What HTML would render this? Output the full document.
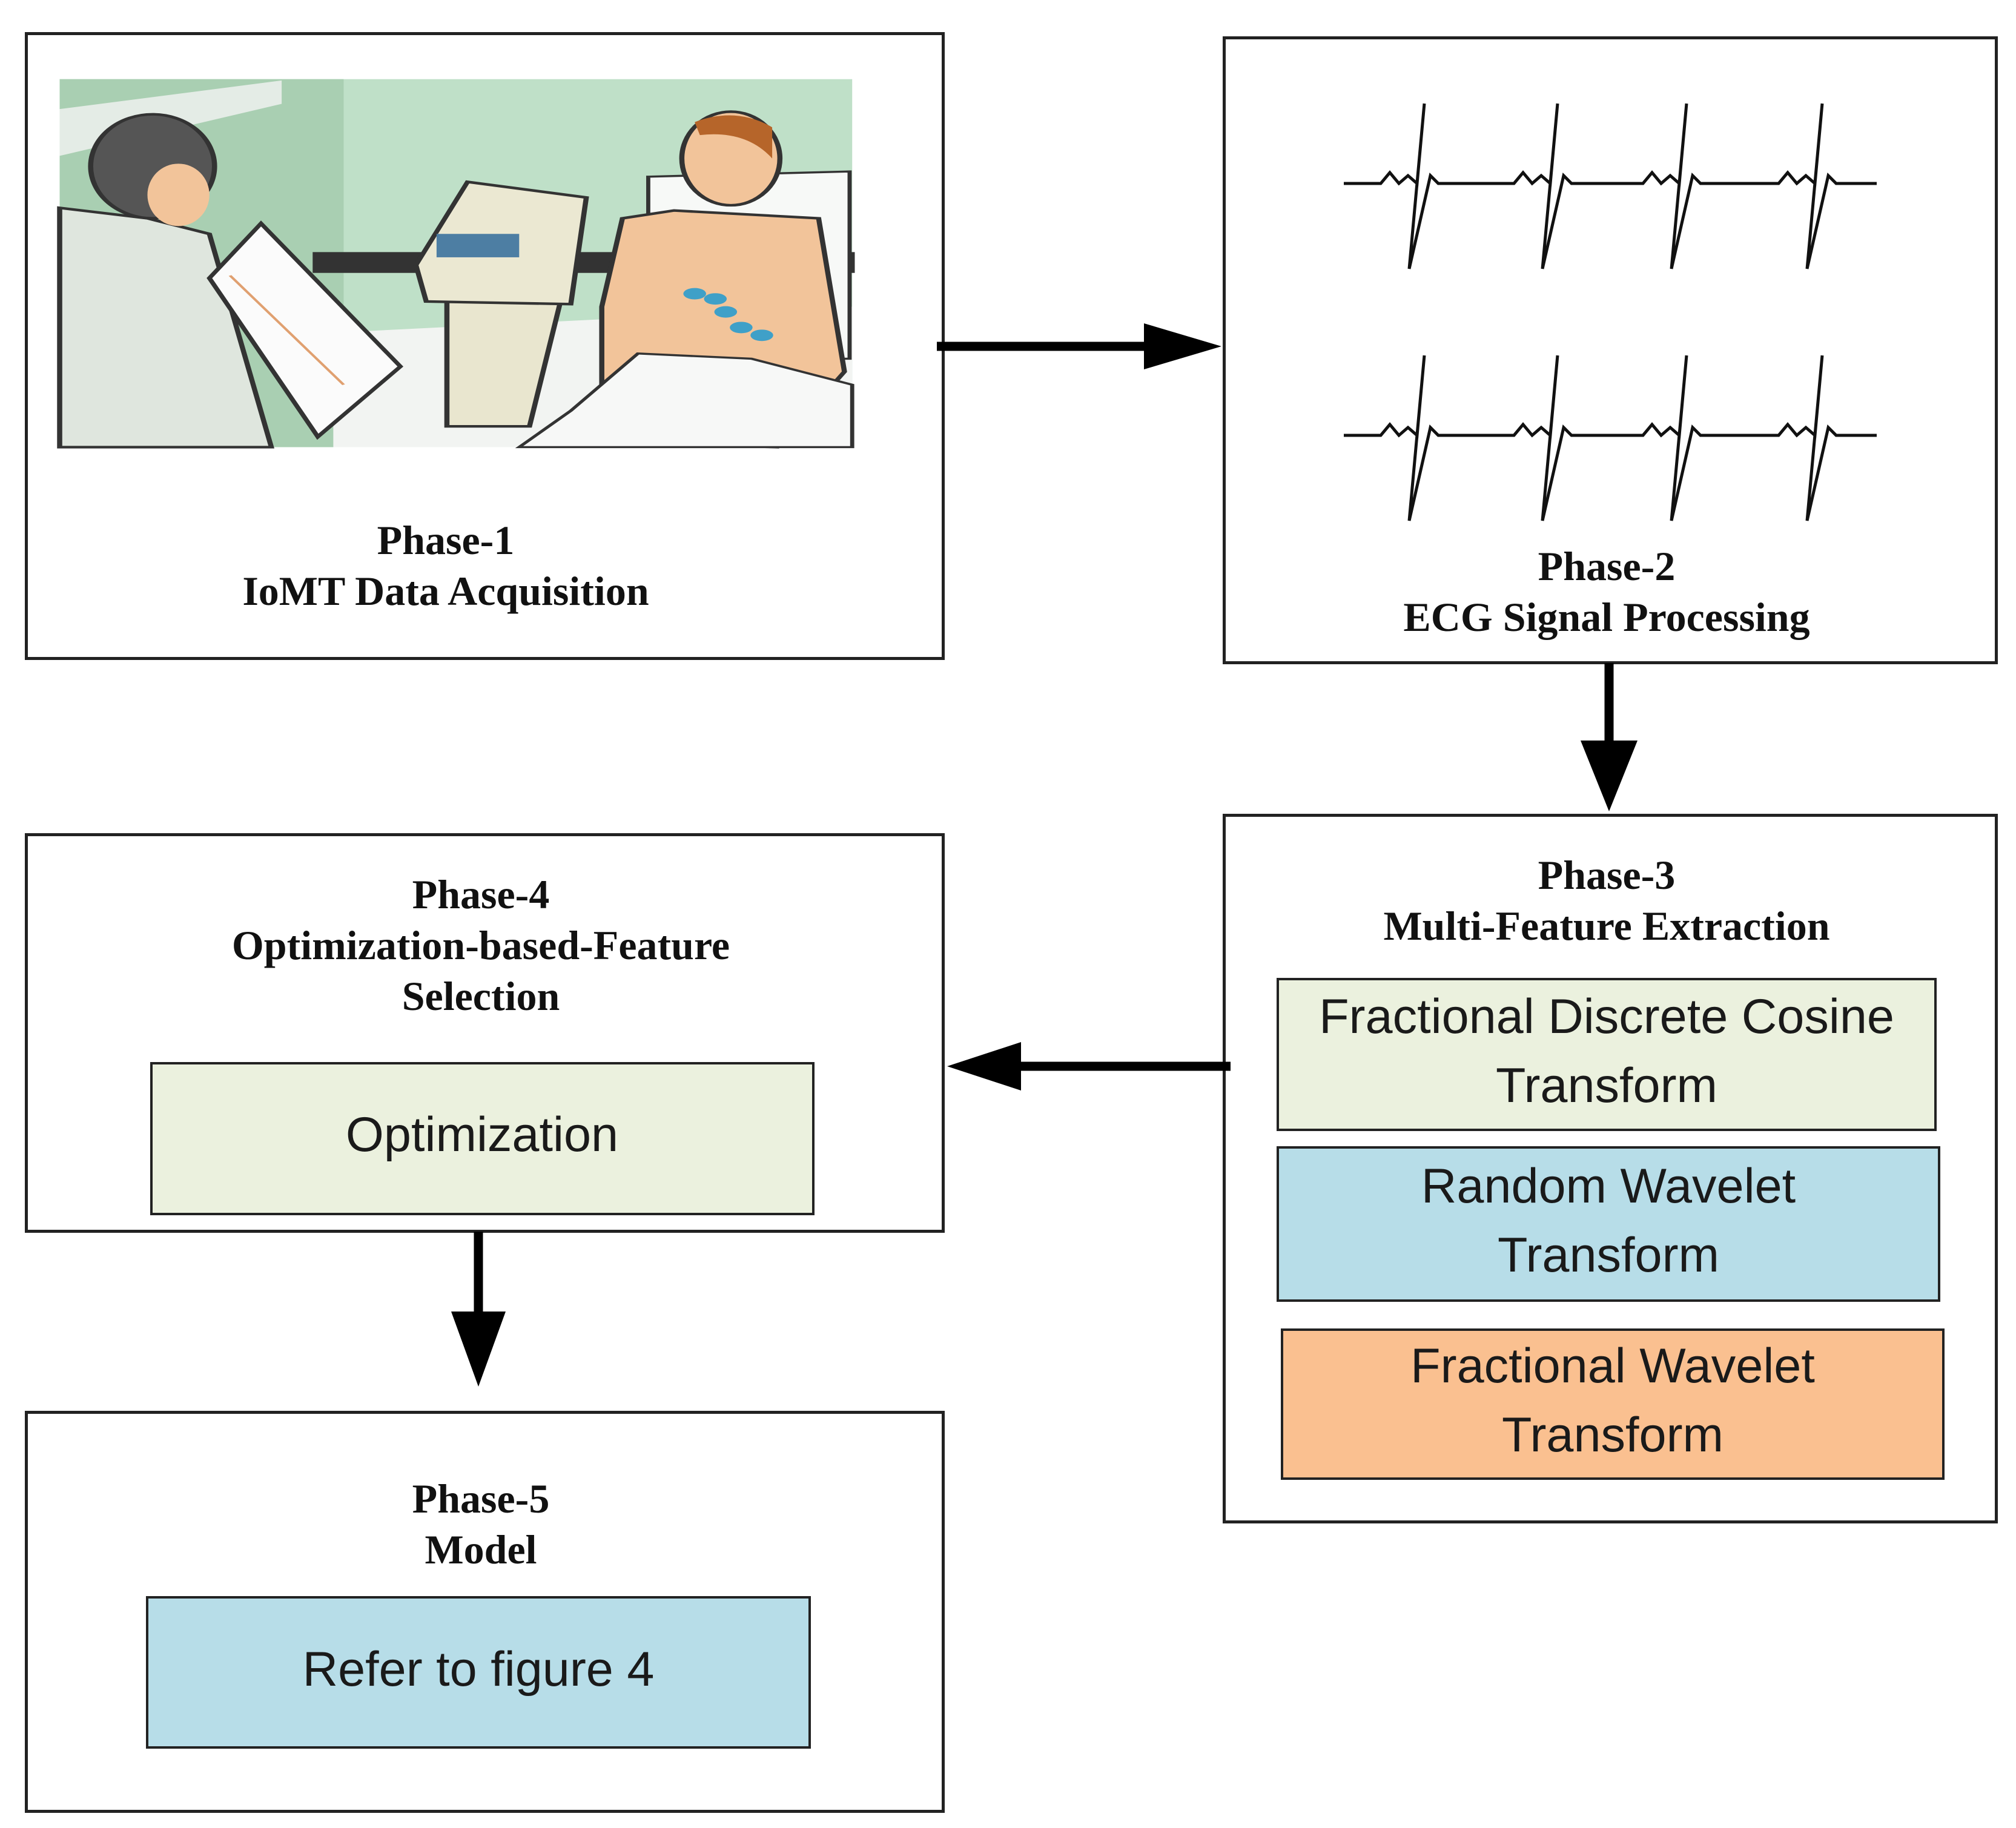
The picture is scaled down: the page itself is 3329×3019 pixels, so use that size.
<!DOCTYPE html>
<html><head><meta charset="utf-8"><style>
body{margin:0;background:#fff}
#c{position:relative;width:3329px;height:3019px;overflow:hidden;background:#fff}
.b{position:absolute;border:5px solid #222;box-sizing:border-box;background:#fff}
.s{position:absolute;border:4px solid #222;box-sizing:border-box}
.t{position:absolute;font-family:"Liberation Serif",serif;font-weight:bold;font-size:68px;color:#111;text-align:center;line-height:84px;white-space:nowrap;transform:translateX(-50%)}
.f{position:absolute;font-family:"Liberation Sans",sans-serif;font-size:81px;color:#1a1a1a;text-align:center;line-height:114px;white-space:nowrap;transform:translateX(-50%)}
svg{position:absolute;left:0;top:0}
</style></head><body><div id="c">
<div class="b" style="left:41px;top:53px;width:1519px;height:1037px"></div>
<div class="b" style="left:2019px;top:60px;width:1280px;height:1037px"></div>
<div class="b" style="left:2019px;top:1344px;width:1280px;height:1172px"></div>
<div class="b" style="left:41px;top:1376px;width:1519px;height:660px"></div>
<div class="b" style="left:41px;top:2330px;width:1519px;height:664px"></div>

<div class="s" style="left:2108px;top:1615px;width:1090px;height:253px;background:#ebf1de"></div>
<div class="s" style="left:2108px;top:1893px;width:1096px;height:257px;background:#b7dde8"></div>
<div class="s" style="left:2115px;top:2194px;width:1096px;height:250px;background:#fac090"></div>
<div class="s" style="left:248px;top:1754px;width:1097px;height:253px;background:#ebf1de"></div>
<div class="s" style="left:241px;top:2636px;width:1098px;height:252px;background:#b7dde8"></div>

<svg width="3329" height="3019" viewBox="0 0 3329 3019">
<g stroke="#000" stroke-width="15" fill="none"><line x1="1547" y1="572" x2="1895" y2="572"/><line x1="2657" y1="1095" x2="2657" y2="1230"/><line x1="2032" y1="1761" x2="1680" y2="1761"/><line x1="790" y1="2034" x2="790" y2="2172"/></g>
<g fill="#000"><polygon points="1889,534 2017,572 1889,610"/><polygon points="2610,1223 2704,1223 2657,1340"/><polygon points="1686,1721 1564,1761 1686,1801"/><polygon points="745,2166 835,2166 790,2290"/></g>
<g stroke="#111" stroke-width="5" fill="none" stroke-linejoin="miter">
<path id="e1" d="M2219,303 H2280 L2295,285 L2310,303 L2325,290 L2340,303 L2352,171 L2327,444 L2362,290 L2375,303 H2500 L2515,285 L2530,303 L2545,290 L2560,303 L2572,171 L2547,444 L2582,290 L2595,303 H2713 L2728,285 L2743,303 L2758,290 L2773,303 L2785,171 L2760,444 L2795,290 L2808,303 H2937 L2952,285 L2967,303 L2982,290 L2997,303 L3009,171 L2984,444 L3019,290 L3032,303 H3099"/>
<use href="#e1" transform="translate(0,416)"/>
</g>
<svg x="90" y="120" width="1330" height="670" viewBox="0 0 1560 1560" preserveAspectRatio="none">
<rect x="10" y="25" width="1535" height="1415" fill="#bfe0c8"/>
<rect x="10" y="25" width="550" height="1415" fill="#a9cfb2"/>
<polygon points="10,140 440,30 440,120 10,320" fill="#e4ece6"/>
<polygon points="540,1000 1545,900 1545,1440 540,1440" fill="#f2f4f2"/>
<rect x="500" y="690" width="1050" height="80" fill="#333"/>
<polygon points="760,880 980,880 920,1360 760,1360" fill="#e9e6cf" stroke="#333" stroke-width="10"/>
<polygon points="700,740 800,420 1030,480 1000,890 720,880" fill="#ebe8d2" stroke="#333" stroke-width="10"/>
<rect x="740" y="620" width="160" height="90" fill="#4d7ea3"/>
<polygon points="1150,400 1540,380 1540,1100 1150,1100" fill="#f7f9f7" stroke="#333" stroke-width="8"/>
<polygon points="1100,560 1200,530 1480,560 1530,1150 1400,1440 1060,1420 1060,900" fill="#f2c49a" stroke="#333" stroke-width="10"/>
<ellipse cx="1310" cy="330" rx="95" ry="180" fill="#f2c49a" stroke="#333" stroke-width="10"/>
<path d="M1240,190 Q1320,130 1390,210 L1390,330 Q1340,220 1250,240 Z" fill="#b6652a"/>
<g fill="#3fa0c8"><circle cx="1240" cy="850" r="22"/><circle cx="1280" cy="870" r="22"/><circle cx="1300" cy="920" r="22"/><circle cx="1330" cy="980" r="22"/><circle cx="1370" cy="1010" r="22"/></g>
<polygon points="900,1440 1000,1300 1130,1080 1350,1100 1545,1200 1545,1440" fill="#f7f8f7" stroke="#333" stroke-width="8"/>
<polygon points="10,520 180,560 300,620 420,1440 10,1440" fill="#dfe6de" stroke="#333" stroke-width="10"/>
<ellipse cx="190" cy="360" rx="120" ry="200" fill="#555" stroke="#333" stroke-width="10"/>
<ellipse cx="240" cy="470" rx="60" ry="120" fill="#f2c49a"/>
<polygon points="300,790 400,580 670,1130 510,1400" fill="#fbfbfb" stroke="#333" stroke-width="10"/>
<path d="M340,780 L560,1200" stroke="#e0a070" stroke-width="6"/>
</svg>
</svg>

<div class="t" style="left:736px;top:850px">Phase-1<br>IoMT Data Acquisition</div>
<div class="t" style="left:2653px;top:893px">Phase-2<br>ECG Signal Processing</div>
<div class="t" style="left:2653px;top:1403px">Phase-3<br>Multi-Feature Extraction</div>
<div class="t" style="left:794px;top:1435px">Phase-4<br>Optimization-based-Feature<br>Selection</div>
<div class="t" style="left:794px;top:2433px">Phase-5<br>Model</div>

<div class="f" style="left:2653px;top:1622px">Fractional Discrete Cosine<br>Transform</div>
<div class="f" style="left:2656px;top:1902px">Random Wavelet<br>Transform</div>
<div class="f" style="left:2663px;top:2199px">Fractional Wavelet<br>Transform</div>
<div class="f" style="left:796px;top:1817px">Optimization</div>
<div class="f" style="left:790px;top:2700px">Refer to figure 4</div>
</div></body></html>
